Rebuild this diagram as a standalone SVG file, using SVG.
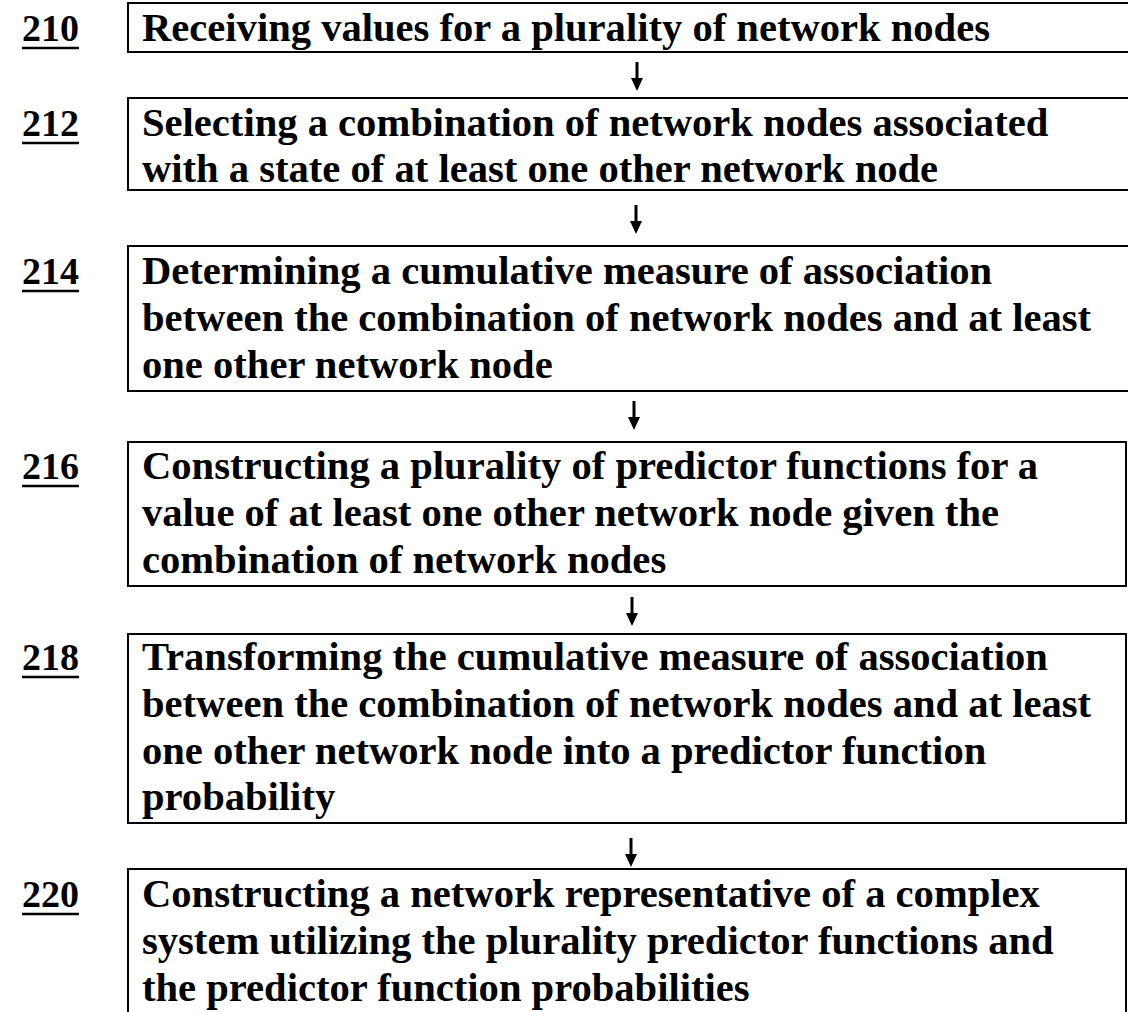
<svg xmlns="http://www.w3.org/2000/svg" width="1128" height="1012" viewBox="0 0 1128 1012">
  <defs>
    <style>
      .box { fill: #fff; stroke: #000; stroke-width: 2; }
      .txt { font-family: "Liberation Serif", "Times New Roman", serif; font-weight: bold; font-size: 40.6px; fill: #000; }
      .ref { font-family: "Liberation Serif", "Times New Roman", serif; font-weight: bold; font-size: 38px; fill: #000; }
      .uline { stroke: #000; stroke-width: 2.5; }
      .conn { stroke: #000; stroke-width: 3; fill: none; }
      .head { fill: #000; }
    </style>
  </defs>
  <rect width="1128" height="1012" fill="#fff"/>

  <!-- step 210 (box runs past the right margin) -->
  <g id="step-210">
    <text class="ref" x="22" y="41">210</text>
    <line class="uline" x1="22" y1="48" x2="79" y2="48"/>
    <rect class="box" x="128" y="3" width="1020" height="49"/>
    <text class="txt" x="142" y="41">Receiving values for a plurality of network nodes</text>
  </g>

  <!-- step 212 -->
  <g id="step-212">
    <text class="ref" x="22" y="136">212</text>
    <line class="uline" x1="22" y1="143" x2="79" y2="143"/>
    <rect class="box" x="128" y="98" width="1020" height="92"/>
    <text class="txt" x="142" y="136">Selecting a combination of network nodes associated</text>
    <text class="txt" x="142" y="182">with a state of at least one other network node</text>
  </g>

  <!-- step 214 -->
  <g id="step-214">
    <text class="ref" x="22" y="284">214</text>
    <line class="uline" x1="22" y1="291" x2="79" y2="291"/>
    <rect class="box" x="128" y="246" width="1020" height="145"/>
    <text class="txt" x="142" y="284">Determining a cumulative measure of association</text>
    <text class="txt" x="142" y="331">between the combination of network nodes and at least</text>
    <text class="txt" x="142" y="378">one other network node</text>
  </g>

  <!-- step 216 -->
  <g id="step-216">
    <text class="ref" x="22" y="479">216</text>
    <line class="uline" x1="22" y1="486" x2="79" y2="486"/>
    <rect class="box" x="128" y="442" width="998" height="144"/>
    <text class="txt" x="142" y="479">Constructing a plurality of predictor functions for a</text>
    <text class="txt" x="142" y="526">value of at least one other network node given the</text>
    <text class="txt" x="142" y="573">combination of network nodes</text>
  </g>

  <!-- step 218 -->
  <g id="step-218">
    <text class="ref" x="22" y="670">218</text>
    <line class="uline" x1="22" y1="677" x2="79" y2="677"/>
    <rect class="box" x="128" y="634" width="998" height="189"/>
    <text class="txt" x="142" y="670">Transforming the cumulative measure of association</text>
    <text class="txt" x="142" y="717">between the combination of network nodes and at least</text>
    <text class="txt" x="142" y="764">one other network node into a predictor function</text>
    <text class="txt" x="142" y="810">probability</text>
  </g>

  <!-- step 220 (box runs past the bottom margin) -->
  <g id="step-220">
    <text class="ref" x="22" y="907">220</text>
    <line class="uline" x1="22" y1="914" x2="79" y2="914"/>
    <rect class="box" x="128" y="869" width="998" height="160"/>
    <text class="txt" x="142" y="907">Constructing a network representative of a complex</text>
    <text class="txt" x="142" y="954">system utilizing the plurality predictor functions and</text>
    <text class="txt" x="142" y="1001">the predictor function probabilities</text>
  </g>

  <!-- downward arrows between steps -->
  <g id="connectors">
    <line class="conn" x1="637" y1="62" x2="637" y2="80"/>
    <path class="head" d="M631,78 L643,78 L637,91 Z"/>
    <line class="conn" x1="636" y1="205" x2="636" y2="223"/>
    <path class="head" d="M630,221 L642,221 L636,234 Z"/>
    <line class="conn" x1="634" y1="401" x2="634" y2="419"/>
    <path class="head" d="M628,417 L640,417 L634,430 Z"/>
    <line class="conn" x1="632" y1="597" x2="632" y2="615"/>
    <path class="head" d="M626,613 L638,613 L632,626 Z"/>
    <line class="conn" x1="631" y1="838" x2="631" y2="856"/>
    <path class="head" d="M625,854 L637,854 L631,867 Z"/>
  </g>
</svg>
